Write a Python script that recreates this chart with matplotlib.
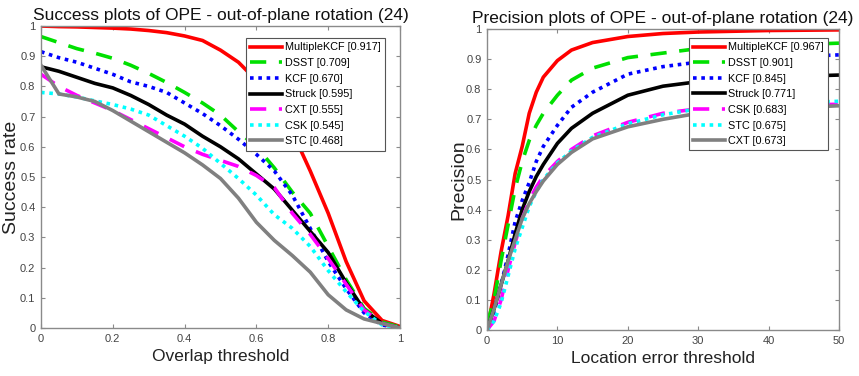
import matplotlib
matplotlib.use("Agg")
import matplotlib.pyplot as plt

plt.rcParams['font.family'] = ['Liberation Sans', 'DejaVu Sans']

# ---- Success plot data ----
succ_x = [0.0, 0.05, 0.1, 0.15, 0.2, 0.25, 0.3, 0.35, 0.4, 0.45, 0.5,
          0.55, 0.6, 0.65, 0.7, 0.75, 0.8, 0.85, 0.9, 0.95, 1.0]
succ_names = ["MultipleKCF [0.917]", "DSST [0.709]", "KCF [0.670]", "Struck [0.595]",
              "CXT [0.555]", "CSK [0.545]", "STC [0.468]"]
succ_multiplekcf = [1.0, 0.998, 0.997, 0.995, 0.993, 0.99, 0.985, 0.978, 0.967, 0.952, 0.92,
                    0.88, 0.82, 0.74, 0.65, 0.52, 0.38, 0.22, 0.09, 0.025, 0.005]
succ_dsst = [0.965, 0.945, 0.925, 0.91, 0.893, 0.87, 0.843, 0.813, 0.78, 0.745, 0.705,
             0.65, 0.6, 0.53, 0.45, 0.38, 0.27, 0.16, 0.065, 0.02, 0.003]
succ_kcf = [0.915, 0.895, 0.88, 0.86, 0.84, 0.815, 0.8, 0.78, 0.745, 0.71, 0.67,
            0.625, 0.575, 0.52, 0.44, 0.33, 0.22, 0.13, 0.05, 0.01, 0.0]
succ_struck = [0.865, 0.85, 0.83, 0.81, 0.795, 0.77, 0.74, 0.705, 0.675, 0.635, 0.6,
               0.56, 0.51, 0.46, 0.39, 0.32, 0.25, 0.15, 0.06, 0.015, 0.0]
succ_cxt = [0.84, 0.8, 0.77, 0.745, 0.72, 0.69, 0.66, 0.63, 0.6, 0.575, 0.555,
            0.535, 0.505, 0.465, 0.38, 0.31, 0.23, 0.145, 0.06, 0.015, 0.0]
succ_csk = [0.78, 0.775, 0.765, 0.752, 0.74, 0.725, 0.705, 0.67, 0.635, 0.595, 0.545,
            0.495, 0.44, 0.375, 0.33, 0.27, 0.19, 0.12, 0.055, 0.01, 0.0]
succ_stc = [0.87, 0.775, 0.765, 0.75, 0.72, 0.685, 0.65, 0.615, 0.58, 0.54, 0.495,
            0.43, 0.35, 0.29, 0.24, 0.185, 0.11, 0.06, 0.03, 0.015, 0.0]

# ---- Precision plot data ----
prec_x = [0, 1, 2, 3, 4, 5, 6, 7, 8, 10, 12, 15, 20, 25, 30, 40, 50]
prec_names = ["MultipleKCF [0.967]", "DSST [0.901]", "KCF [0.845]", "Struck [0.771]",
              "CSK [0.683]", "STC [0.675]", "CXT [0.673]"]
prec_multiplekcf = [0.0, 0.12, 0.26, 0.38, 0.52, 0.61, 0.72, 0.79, 0.84, 0.895, 0.93,
                    0.955, 0.975, 0.985, 0.99, 0.995, 0.997]
prec_dsst = [0.02, 0.1, 0.23, 0.35, 0.47, 0.56, 0.63, 0.68, 0.72, 0.78, 0.83,
             0.87, 0.905, 0.92, 0.935, 0.945, 0.953]
prec_kcf = [0.0, 0.06, 0.15, 0.25, 0.36, 0.43, 0.49, 0.56, 0.61, 0.68, 0.74,
            0.79, 0.85, 0.875, 0.89, 0.905, 0.914]
prec_struck = [0.0, 0.07, 0.15, 0.23, 0.32, 0.4, 0.46, 0.51, 0.55, 0.62, 0.67,
               0.72, 0.78, 0.81, 0.825, 0.84, 0.847]
prec_csk = [0.0, 0.03, 0.1, 0.2, 0.29, 0.37, 0.43, 0.475, 0.51, 0.56, 0.6,
            0.645, 0.69, 0.72, 0.735, 0.745, 0.75]
prec_stc = [0.0, 0.03, 0.09, 0.18, 0.27, 0.34, 0.41, 0.46, 0.5, 0.555, 0.595,
            0.64, 0.685, 0.715, 0.735, 0.75, 0.76]
prec_cxt = [0.0, 0.07, 0.15, 0.23, 0.3, 0.37, 0.42, 0.46, 0.495, 0.55, 0.59,
            0.635, 0.675, 0.7, 0.72, 0.735, 0.745]

RED, GREEN, BLUE, BLACK, MAG, CYAN, GRAY = "#ff0000", "#00e000", "#0000ff", "#000000", "#ff00ff", "#00ffff", "#808080"
SOLID = "-"
DASH = (0, (4.5, 3.5))
DOT = (0, (1.0, 1.3))

styles = [(RED, SOLID), (GREEN, DASH), (BLUE, DOT), (BLACK, SOLID),
          (MAG, DASH), (CYAN, DOT), (GRAY, SOLID)]

W, H = 859, 376
fig = plt.figure(figsize=(W / 100, H / 100), dpi=100)

ax1 = fig.add_axes([41 / W, 1 - 328 / H, (400 - 41) / W, (328 - 26) / H])
ax2 = fig.add_axes([487 / W, 1 - 330 / H, (839 - 487) / W, (330 - 29) / H])

succ_series = [succ_multiplekcf, succ_dsst, succ_kcf, succ_struck, succ_cxt, succ_csk, succ_stc]
prec_series = [prec_multiplekcf, prec_dsst, prec_kcf, prec_struck, prec_csk, prec_stc, prec_cxt]

lw = 2.6
for ys, name, (c, ls) in zip(succ_series, succ_names, styles):
    ax1.plot(succ_x, ys, color=c, linestyle=ls, linewidth=lw, label=name,
             dash_capstyle='butt', solid_joinstyle='round')
for ys, name, (c, ls) in zip(prec_series, prec_names, styles):
    ax2.plot(prec_x, ys, color=c, linestyle=ls, linewidth=lw, label=name,
             dash_capstyle='butt', solid_joinstyle='round')

AXC = "#8a8a8a"
TXC = "#444444"
leg_anchor = {ax1: (0.958, 0.960), ax2: (0.969, 0.970)}
for ax in (ax1, ax2):
    ax.set_ylim(0, 1)
    ax.set_yticks([0, 0.1, 0.2, 0.3, 0.4, 0.5, 0.6, 0.7, 0.8, 0.9, 1])
    ax.set_yticklabels(["0", "0.1", "0.2", "0.3", "0.4", "0.5", "0.6", "0.7", "0.8", "0.9", "1"])
    ax.tick_params(direction='in', length=3, width=0.8, colors=AXC, labelcolor=TXC,
                   labelsize=8, top=True, right=True, pad=4)
    for s in ax.spines.values():
        s.set_color(AXC)
        s.set_linewidth(1.0)
    leg = ax.legend(loc='upper right', bbox_to_anchor=leg_anchor[ax], borderaxespad=0,
                    fontsize=7.8, handlelength=2.9, handletextpad=0.3,
                    borderpad=0.4, labelspacing=0.52, frameon=True, fancybox=False)
    leg.get_frame().set_edgecolor("#555555")
    leg.get_frame().set_linewidth(0.8)
    leg.get_frame().set_alpha(1.0)

ax1.set_xlim(0, 1)
ax1.set_xticks([0, 0.2, 0.4, 0.6, 0.8, 1])
ax1.set_xticklabels(["0", "0.2", "0.4", "0.6", "0.8", "1"])
ax2.set_xlim(0, 50)
ax2.set_xticks([0, 10, 20, 30, 40, 50])

TFS = 12.5
ax1.set_title("Success plots of OPE - out-of-plane rotation (24)", fontsize=TFS, pad=4, color="#111111")
ax2.set_title("Precision plots of OPE - out-of-plane rotation (24)", fontsize=TFS, pad=4, color="#111111")
ax1.set_xlabel("Overlap threshold", fontsize=12.5, color="#222222", labelpad=4)
ax1.set_ylabel("Success rate", fontsize=14, color="#222222", va='center')
ax2.set_xlabel("Location error threshold", fontsize=12.5, color="#222222", labelpad=4)
ax2.set_ylabel("Precision", fontsize=14, color="#222222", va='center')
ax1.yaxis.set_label_coords((12 - 41) / 359, 0.5)
ax2.yaxis.set_label_coords((459 - 487) / 352, 0.5)

fig.savefig("out.png", dpi=100)
